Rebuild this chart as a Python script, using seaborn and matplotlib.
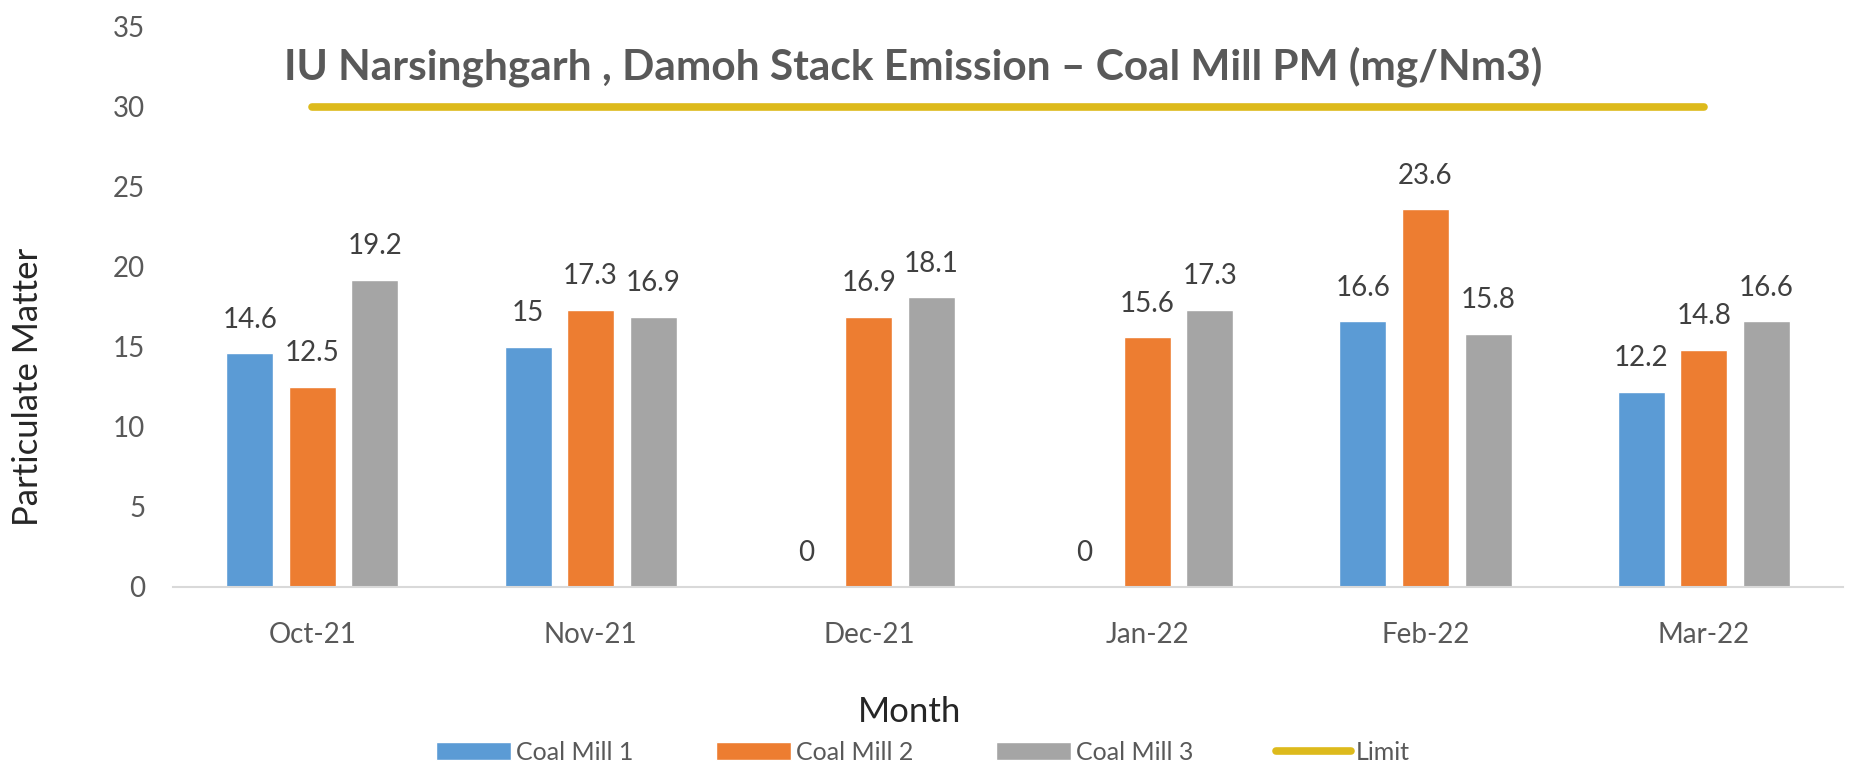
import numpy as np
import pandas as pd
import seaborn as sns
import matplotlib.pyplot as plt
from matplotlib.patches import Patch
from matplotlib.lines import Line2D
from matplotlib.ticker import FixedLocator

months = ["Oct-21", "Nov-21", "Dec-21", "Jan-22", "Feb-22", "Mar-22"]
mill1 = [14.6, 15, 0, 0, 16.6, 12.2]
mill2 = [12.5, 17.3, 16.9, 15.6, 23.6, 14.8]
mill3 = [19.2, 16.9, 18.1, 17.3, 15.8, 16.6]
limit = [30, 30, 30, 30, 30, 30]
series = ["Coal Mill 1", "Coal Mill 2", "Coal Mill 3"]
colors = ["#5B9BD5", "#ED7D31", "#A5A5A5"]
limit_color = "#DDBA1C"

df = pd.DataFrame({"Month": months * 3,
                   "PM": mill1 + mill2 + mill3,
                   "Mill": [s for s in series for _ in months]})

sns.set_style("white")
plt.rcParams["font.family"] = ["Lato", "DejaVu Sans"]

fig = plt.figure(figsize=(18.53, 7.67), dpi=100)
ax = fig.add_axes([0.0934, 0.2347, 0.9012, 0.7301])

sns.barplot(data=df, x="Month", y="PM", hue="Mill", palette=colors,
            width=0.674, gap=0.248, saturation=1, legend=False, ax=ax)

# value labels above each bar
for cont in ax.containers:
    ax.bar_label(cont, labels=[f"{v:g}" for v in cont.datavalues],
                 padding=15, fontsize=20, color="#404040")

sns.lineplot(x=np.arange(len(months)), y=limit, ax=ax, color=limit_color,
             linewidth=5.5, solid_capstyle="round")

ax.set_ylim(0, 35)
ax.set_xlim(-0.5, len(months) - 0.5)
ax.set_yticks(range(0, 36, 5))
ax.tick_params(axis="y", labelsize=20, labelcolor="#595959", length=0, pad=20)
ax.tick_params(axis="x", labelsize=20, labelcolor="#595959", length=0, pad=25)
ax.xaxis.set_minor_locator(FixedLocator(np.arange(-0.5, len(months), 1)))
ax.tick_params(axis="x", which="minor", length=6, color="#D9D9D9", width=1.2)

for side in ["top", "right", "left"]:
    ax.spines[side].set_visible(False)
ax.spines["bottom"].set_color("#D9D9D9")
ax.spines["bottom"].set_linewidth(1.5)

ax.set_ylabel("Particulate Matter", fontsize=25, color="#262626")
ax.yaxis.set_label_coords(-0.077, 0.357)
ax.set_xlabel("Month", fontsize=25, color="#262626")
ax.xaxis.set_label_coords(0.441, -0.195)

ax.text(0.443, 0.929, "IU Narsinghgarh , Damoh Stack Emission \u2013 Coal Mill PM (mg/Nm3)",
        transform=ax.transAxes, ha="center", va="center", fontsize=30.5,
        fontweight="bold", color="#595959")

handles = [Patch(facecolor=c, label=s) for c, s in zip(colors, series)]
handles.append(Line2D([0], [0], color=limit_color, lw=5.5, label="Limit"))
ax.legend(handles=handles, loc="center", bbox_to_anchor=(0.449, -0.295),
          ncol=4, frameon=False, fontsize=18, handlelength=3.0, handleheight=0.7,
          handletextpad=0.2, columnspacing=3.3, labelcolor="#595959")

fig.savefig("out.png", dpi=100)
